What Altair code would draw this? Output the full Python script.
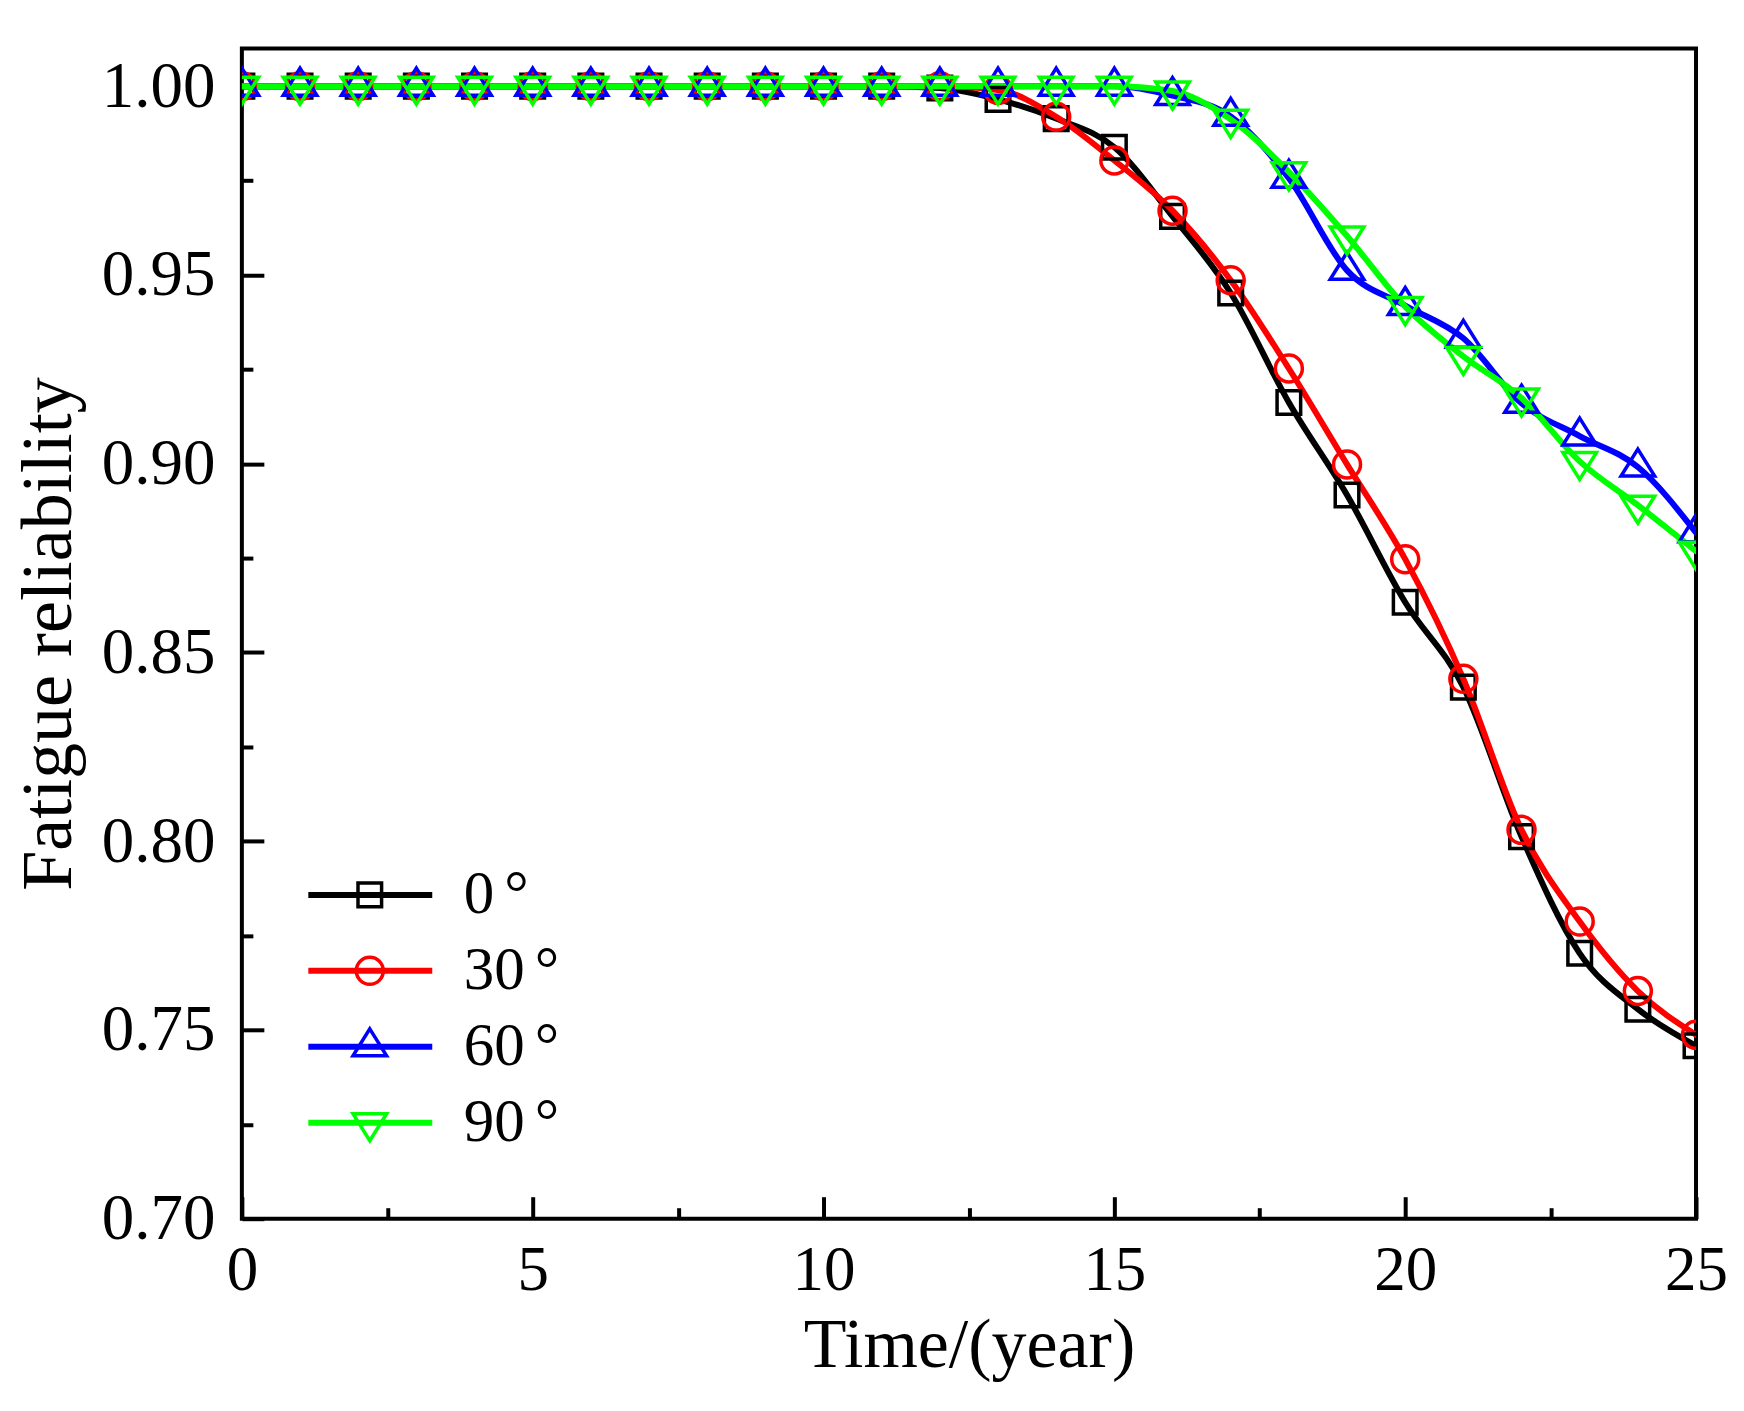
import altair as alt
import pandas as pd

##### Data

years = [0, 1, 2, 3, 4, 5, 6, 7, 8, 9, 10, 11, 12, 13, 14, 15, 16, 17, 18, 19, 20, 21, 22, 23, 24, 25]

rel_0 = [1.000, 1.000, 1.000, 1.000, 1.000, 1.000, 1.000, 1.000, 1.000, 1.000, 1.000, 1.000, 0.9995,
         0.9965, 0.9914, 0.9838, 0.9655, 0.9452, 0.9162, 0.8917, 0.8633, 0.8408, 0.8012, 0.7703, 0.7555, 0.7458]
rel_30 = [1.000, 1.000, 1.000, 1.000, 1.000, 1.000, 1.000, 1.000, 1.000, 1.000, 1.000, 1.000, 1.000,
          0.999, 0.9919, 0.9803, 0.9670, 0.9486, 0.9252, 0.8998, 0.8747, 0.8430, 0.8030, 0.7787, 0.7603, 0.7487]
rel_60 = [1.000, 1.000, 1.000, 1.000, 1.000, 1.000, 1.000, 1.000, 1.000, 1.000, 1.000, 1.000, 1.000,
          1.000, 1.000, 1.000, 0.9975, 0.9920, 0.9756, 0.9512, 0.9419, 0.9332, 0.9160, 0.9073, 0.8991, 0.8817]
rel_90 = [1.000, 1.000, 1.000, 1.000, 1.000, 1.000, 1.000, 1.000, 1.000, 1.000, 1.000, 1.000, 1.000,
          1.000, 1.000, 1.000, 0.9987, 0.9912, 0.9773, 0.9603, 0.9416, 0.9284, 0.9174, 0.9006, 0.8890, 0.8768]

angles = ["0\u2006°", "30\u2006°", "60\u2006°", "90\u2006°"]
colors = ["#000000", "#ff0000", "#0000ff", "#00ff00"]

x_labels = [0, 5, 10, 15, 20, 25]
x_ticks = [0, 2.5, 5, 7.5, 10, 12.5, 15, 17.5, 20, 22.5, 25]
y_labels = [0.70, 0.75, 0.80, 0.85, 0.90, 0.95, 1.00]
y_ticks = [0.70, 0.725, 0.75, 0.775, 0.80, 0.825, 0.85, 0.875, 0.90, 0.925, 0.95, 0.975, 1.00]

rows = []
for ang, vals in zip(angles, [rel_0, rel_30, rel_60, rel_90]):
    for t, v in zip(years, vals):
        rows.append({"year": t, "rel": v, "angle": ang})
df = pd.DataFrame(rows)

##### Sizes / styles

W, H = 1455, 1171
FONT = "Liberation Serif"

# hollow markers as paths (unit = sqrt(size)/2)
marker_paths = [
    "M-0.59,-0.59H0.59V0.59H-0.59Z",
    "M0.675,0A0.675,0.675,0,1,1,-0.675,0A0.675,0.675,0,1,1,0.675,0Z",
    "M0,-0.9L0.84,0.45L-0.84,0.45Z",
    "M0,0.9L0.84,-0.45L-0.84,-0.45Z",
]

x_scale = alt.Scale(domain=[0, 25], nice=False, zero=False)
y_scale = alt.Scale(domain=[0.70, 1.01], nice=False, zero=False)
c_scale = alt.Scale(domain=angles, range=colors)
s_scale = alt.Scale(domain=angles, range=marker_paths)

x_tick_size = {"condition": {"test": "datum.value % 5 === 0", "value": 22}, "value": 11}
y_tick_size = {"condition": {"test": "abs(datum.value * 20 - round(datum.value * 20)) < 0.001", "value": 22}, "value": 11}

axis_x_main = alt.Axis(
    orient="bottom", values=x_labels, ticks=False, tickSize=0, domain=False, grid=False,
    labelFont=FONT, labelFontSize=63, labelColor="black", labelPadding=21,
    labelFlush=False, labelOverlap=False,
    title="Time/(year)", titleFont=FONT, titleFontSize=70, titleFontWeight="normal",
    titleColor="black", titleX=W / 2, titleY=148, titleBaseline="alphabetic", titleAlign="center",
)
axis_y_main = alt.Axis(
    orient="left", values=y_labels, format=".2f", ticks=False, tickSize=0, domain=False, grid=False,
    labelFont=FONT, labelFontSize=65, labelColor="black", labelPadding=27,
    labelFlush=False, labelOverlap=False,
    title="Fatigue reliability", titleFont=FONT, titleFontSize=72, titleFontWeight="normal",
    titleColor="black", titleX=-171, titleY=H / 2, titleBaseline="alphabetic", titleAlign="center",
)
# inward ticks: axes on the opposite side pulled back over the frame
axis_x_ticks = alt.Axis(
    orient="top", offset=-H, values=x_ticks, labels=False, domain=False, grid=False, title=None,
    tickSize=x_tick_size, tickWidth=4, tickColor="black",
)
axis_y_ticks = alt.Axis(
    orient="right", offset=-W, values=y_ticks, labels=False, domain=False, grid=False, title=None,
    tickSize=y_tick_size, tickWidth=4, tickColor="black",
)

leg_common = dict(orient="none", legendY=817, title=None, clipHeight=60, rowPadding=15, padding=0,
                  labelFont=FONT, labelFontSize=61, labelColor="black")

legend_line = alt.Legend(legendX=63.5, symbolType="stroke", symbolSize=15376, symbolStrokeWidth=6,
                         labelOffset=28.5, **leg_common)
legend_pts = alt.Legend(legendX=97.5, symbolSize=1600, symbolStrokeWidth=3.5, labelExpr="''",
                        symbolFillColor="transparent", **leg_common)

lines = (
    alt.Chart(df)
    .mark_line(interpolate="monotone", strokeWidth=6, strokeJoin="round", strokeCap="round", clip=True)
    .encode(
        x=alt.X("year:Q", scale=x_scale, axis=axis_x_main),
        y=alt.Y("rel:Q", scale=y_scale, axis=axis_y_main),
        color=alt.Color("angle:N", scale=c_scale, legend=legend_line),
    )
)

points = (
    alt.Chart(df)
    .mark_point(filled=False, size=1600, strokeWidth=3.5, opacity=1, clip=True)
    .encode(
        x=alt.X("year:Q", scale=x_scale, axis=axis_x_ticks),
        y=alt.Y("rel:Q", scale=y_scale, axis=axis_y_ticks),
        color=alt.Color("angle:N", scale=c_scale, legend=legend_pts),
        shape=alt.Shape("angle:N", scale=s_scale, legend=legend_pts),
    )
)

chart = (
    alt.layer(lines, points)
    .resolve_axis(x="independent", y="independent")
    .resolve_legend(color="independent", shape="independent")
    .properties(
        width=W,
        height=H,
        autosize=alt.AutoSizeParams(type="none"),
        padding={"left": 234, "top": 40, "right": 40, "bottom": 180},
        background="white",
    )
    .configure(font=FONT)
    .configure_view(stroke="#000000", strokeWidth=4)
)

chart.save("out.html", embed_options={"renderer": "svg", "actions": False})
